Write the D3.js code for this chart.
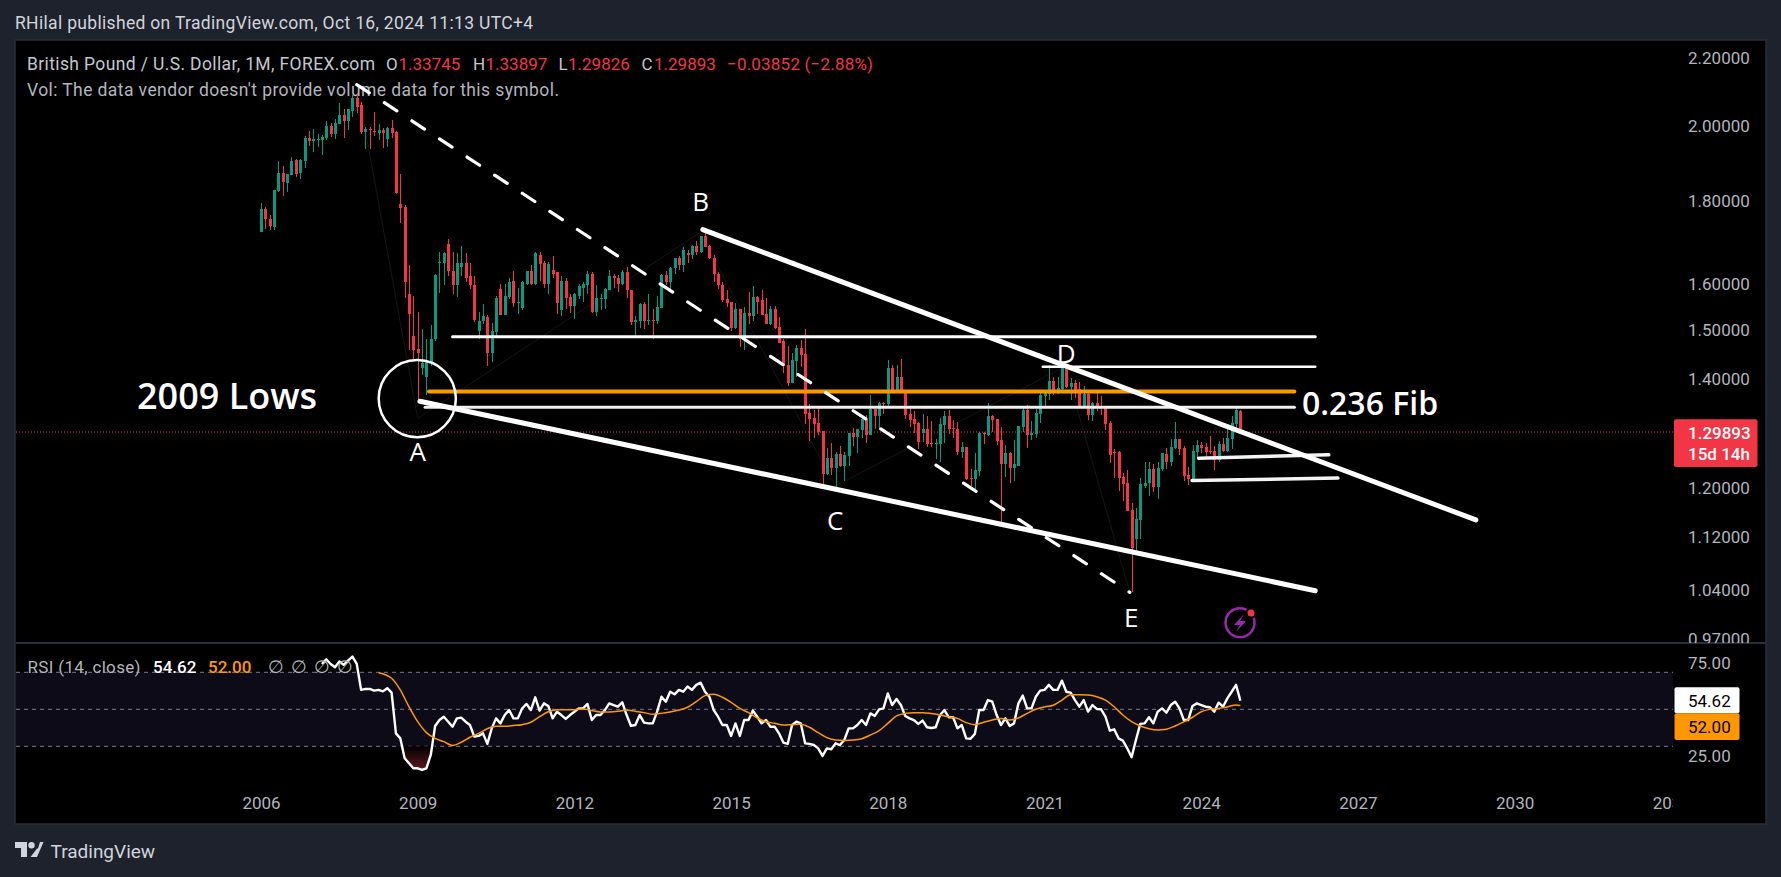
<!DOCTYPE html>
<html>
<head>
<meta charset="utf-8">
<script src="https://cdn.jsdelivr.net/npm/d3@7"></script>
<style>
  body { margin: 0; background: #1e222d; overflow: hidden; }
  text { font-family: Roboto, sans-serif; }
</style>
</head>
<body>
<div id="chart"></div>
<script>
// monthly bars, month 0 = Jan 2006
const opens = [
  1.722,1.780,1.754,1.735,1.824,1.872,1.846,1.867,1.905,1.872,
  1.904,1.967,1.959,1.961,1.961,1.967,2.000,1.978,2.006,2.031,
  2.014,2.043,2.080,2.060,1.984,1.992,1.986,1.981,1.989,1.964,
  1.994,1.983,1.792,1.784,1.579,1.488,1.461,1.421,1.403,1.433,
  1.480,1.648,1.648,1.694,1.631,1.599,1.639,1.648,1.618,1.597,
  1.497,1.518,1.527,1.451,1.495,1.590,1.533,1.572,1.608,1.557,
  1.548,1.601,1.629,1.601,1.666,1.648,1.601,1.633,1.627,1.542,
  1.608,1.572,1.552,1.574,1.592,1.599,1.624,1.539,1.566,1.566,
  1.588,1.618,1.615,1.601,1.627,1.588,1.516,1.518,1.555,1.520,
  1.522,1.520,1.548,1.620,1.604,1.636,1.659,1.643,1.673,1.666,
  1.689,1.675,1.713,1.689,1.661,1.624,1.599,1.566,1.561,1.505,
  1.546,1.480,1.537,1.529,1.572,1.564,1.535,1.512,1.544,1.507,
  1.476,1.427,1.392,1.435,1.463,1.449,1.334,1.324,1.315,1.301,
  1.224,1.252,1.234,1.259,1.238,1.255,1.297,1.290,1.302,1.323,
  1.293,1.341,1.328,1.354,1.351,1.421,1.376,1.403,1.378,1.332,
  1.323,1.315,1.297,1.304,1.279,1.277,1.277,1.311,1.328,1.306,
  1.304,1.262,1.271,1.217,1.215,1.229,1.297,1.293,1.328,1.323,
  1.284,1.241,1.261,1.234,1.239,1.308,1.339,1.293,1.295,1.332,
  1.366,1.370,1.395,1.378,1.380,1.423,1.384,1.392,1.380,1.347,
  1.370,1.330,1.354,1.347,1.345,1.315,1.262,1.262,1.219,1.209,
  1.163,1.117,1.147,1.204,1.209,1.233,1.202,1.233,1.259,1.245,
  1.270,1.286,1.270,1.222,1.215,1.262,1.275,1.271,1.264,1.264,
  1.248,1.277,1.264,1.286,1.313,1.33745];
const highs = [
  1.794,1.783,1.764,1.828,1.904,1.891,1.870,1.914,1.909,1.909,
  1.971,1.985,1.991,1.977,1.975,2.013,2.008,2.020,2.066,2.048,
  2.049,2.089,2.094,2.068,1.997,1.997,2.039,2.006,1.994,1.996,
  2.017,1.985,1.870,1.789,1.643,1.574,1.539,1.501,1.480,1.510,
  1.622,1.675,1.675,1.706,1.675,1.673,1.689,1.673,1.648,1.618,
  1.539,1.555,1.533,1.514,1.574,1.601,1.601,1.613,1.631,1.592,
  1.608,1.629,1.643,1.675,1.675,1.652,1.650,1.664,1.627,1.618,
  1.615,1.579,1.581,1.601,1.606,1.629,1.627,1.599,1.579,1.592,
  1.633,1.624,1.620,1.633,1.639,1.588,1.529,1.559,1.561,1.577,
  1.546,1.574,1.622,1.629,1.639,1.659,1.664,1.685,1.680,1.692,
  1.701,1.713,1.721,1.692,1.666,1.627,1.604,1.588,1.561,1.557,
  1.546,1.550,1.583,1.595,1.574,1.586,1.568,1.552,1.552,1.527,
  1.482,1.467,1.453,1.469,1.478,1.503,1.351,1.339,1.347,1.301,
  1.270,1.279,1.262,1.274,1.262,1.297,1.306,1.304,1.325,1.330,
  1.368,1.341,1.356,1.356,1.437,1.427,1.427,1.439,1.378,1.347,
  1.338,1.317,1.332,1.328,1.319,1.286,1.324,1.338,1.339,1.321,
  1.317,1.281,1.271,1.233,1.261,1.299,1.299,1.353,1.330,1.323,
  1.308,1.275,1.262,1.284,1.310,1.343,1.349,1.319,1.341,1.376,
  1.378,1.427,1.403,1.403,1.425,1.427,1.401,1.397,1.394,1.386,
  1.372,1.356,1.378,1.366,1.345,1.319,1.268,1.264,1.226,1.231,
  1.175,1.167,1.217,1.246,1.246,1.241,1.245,1.261,1.270,1.286,
  1.317,1.286,1.274,1.236,1.275,1.284,1.281,1.279,1.291,1.274,
  1.282,1.288,1.306,1.328,1.345,1.33897];
const lows = [
  1.721,1.730,1.726,1.726,1.823,1.811,1.821,1.865,1.862,1.855,
  1.885,1.944,1.928,1.942,1.920,1.962,1.970,1.964,2.006,1.967,
  1.989,2.026,2.037,1.978,1.936,1.935,1.973,1.961,1.939,1.942,
  1.967,1.818,1.745,1.570,1.459,1.439,1.353,1.407,1.368,1.425,
  1.477,1.581,1.599,1.618,1.579,1.572,1.618,1.604,1.590,1.516,
  1.480,1.512,1.425,1.433,1.488,1.533,1.531,1.566,1.550,1.535,
  1.542,1.597,1.597,1.599,1.608,1.592,1.579,1.613,1.535,1.529,
  1.544,1.537,1.524,1.566,1.561,1.579,1.537,1.529,1.542,1.544,
  1.586,1.592,1.583,1.599,1.570,1.510,1.484,1.505,1.503,1.510,
  1.482,1.512,1.548,1.597,1.590,1.624,1.633,1.627,1.648,1.657,
  1.668,1.673,1.687,1.657,1.606,1.590,1.561,1.550,1.497,1.501,
  1.465,1.459,1.512,1.518,1.535,1.533,1.512,1.510,1.501,1.473,
  1.411,1.386,1.392,1.403,1.423,1.313,1.282,1.288,1.293,1.207,
  1.222,1.222,1.200,1.236,1.212,1.238,1.274,1.261,1.288,1.279,
  1.293,1.304,1.306,1.332,1.347,1.376,1.374,1.374,1.323,1.308,
  1.297,1.268,1.281,1.271,1.271,1.250,1.245,1.279,1.295,1.288,
  1.257,1.252,1.214,1.204,1.198,1.220,1.277,1.291,1.299,1.275,
  1.142,1.219,1.209,1.212,1.238,1.299,1.270,1.284,1.288,1.315,
  1.347,1.358,1.368,1.370,1.378,1.382,1.358,1.362,1.343,1.345,
  1.321,1.319,1.338,1.330,1.302,1.243,1.217,1.195,1.179,1.162,
  1.036,1.094,1.117,1.200,1.187,1.193,1.182,1.229,1.233,1.238,
  1.268,1.257,1.212,1.205,1.212,1.252,1.261,1.254,1.259,1.231,
  1.246,1.262,1.262,1.268,1.302,1.29826];
const closes = [
  1.779,1.753,1.737,1.828,1.872,1.849,1.870,1.904,1.870,1.907,
  1.967,1.958,1.963,1.963,1.969,2.000,1.978,2.008,2.031,2.014,
  2.048,2.081,2.055,1.984,1.991,1.991,1.984,1.989,1.981,1.994,
  1.981,1.820,1.782,1.606,1.535,1.459,1.453,1.431,1.437,1.482,
  1.620,1.650,1.673,1.629,1.599,1.648,1.648,1.615,1.597,1.522,
  1.520,1.529,1.451,1.497,1.570,1.533,1.574,1.606,1.557,1.561,
  1.604,1.629,1.601,1.673,1.646,1.601,1.646,1.624,1.557,1.608,
  1.570,1.552,1.577,1.595,1.601,1.624,1.539,1.568,1.568,1.590,
  1.618,1.615,1.601,1.627,1.586,1.516,1.522,1.555,1.520,1.522,
  1.520,1.550,1.620,1.604,1.636,1.659,1.643,1.678,1.666,1.689,
  1.675,1.713,1.687,1.659,1.622,1.599,1.564,1.559,1.505,1.546,
  1.482,1.537,1.529,1.572,1.561,1.533,1.512,1.544,1.505,1.473,
  1.425,1.392,1.437,1.463,1.447,1.332,1.323,1.313,1.299,1.224,
  1.252,1.234,1.259,1.238,1.257,1.297,1.290,1.304,1.323,1.293,
  1.341,1.328,1.354,1.353,1.421,1.376,1.403,1.376,1.330,1.321,
  1.313,1.281,1.304,1.277,1.277,1.279,1.313,1.328,1.304,1.304,
  1.262,1.271,1.215,1.215,1.231,1.297,1.295,1.328,1.321,1.282,
  1.241,1.261,1.234,1.241,1.310,1.339,1.293,1.297,1.334,1.368,
  1.374,1.395,1.378,1.382,1.423,1.384,1.392,1.374,1.347,1.370,
  1.330,1.354,1.345,1.343,1.313,1.257,1.261,1.217,1.207,1.162,
  1.103,1.149,1.207,1.209,1.233,1.202,1.234,1.261,1.245,1.271,
  1.286,1.268,1.220,1.215,1.264,1.275,1.270,1.262,1.263,1.248,
  1.277,1.264,1.288,1.315,1.339,1.29893];

// RSI (14) starts at month 14
const rsiFirstMonth = 14;
const rsi = [
  74.5,77.0,74.5,72.7,75.8,74.0,76.3,78.5,74.5,60.5,61.0,61.0,60.1,60.5,59.7,61.4,59.0,37.0,34.3,23.5,
  20.8,18.1,18.1,17.2,18.1,25.3,41.0,44.2,46.0,43.3,40.6,45.1,45.5,43.3,41.5,35.2,35.6,37.0,31.3,39.7,
  45.1,42.4,46.9,49.6,45.1,45.1,50.5,52.9,49.6,56.5,49.3,53.2,51.8,45.1,48.7,46.9,44.8,46.9,48.7,50.5,
  50.5,52.9,44.2,46.9,46.9,49.6,53.2,52.3,51.4,53.8,46.9,41.0,41.5,46.9,42.8,42.4,42.4,48.7,56.8,54.1,
  59.5,58.1,60.5,59.5,62.3,60.5,63.2,64.4,59.5,56.8,49.6,46.0,41.5,41.5,35.6,42.4,35.6,44.2,44.2,49.3,
  46.0,42.4,44.2,40.6,40.6,37.0,32.0,31.3,41.5,43.3,42.4,31.6,31.3,30.7,28.9,24.8,28.9,28.4,31.6,30.7,
  33.4,39.7,39.7,41.5,44.2,41.5,47.8,46.4,50.0,50.5,58.6,52.3,55.6,52.3,46.4,45.1,44.2,42.1,43.9,40.3,
  39.9,40.3,46.9,49.6,45.7,45.7,39.7,41.5,34.3,34.1,36.7,49.6,49.6,55.0,54.1,46.9,41.5,45.1,41.0,42.4,
  53.2,57.4,50.5,50.5,56.8,60.1,60.5,63.2,60.5,60.5,65.5,59.5,59.0,55.0,51.4,55.0,48.7,52.3,50.2,50.0,
  46.0,38.5,39.2,34.3,33.1,28.9,24.1,33.4,42.1,42.4,45.7,42.4,48.7,50.5,48.2,52.3,54.1,50.5,44.2,44.2,
  51.8,53.2,52.3,51.4,51.1,48.7,53.6,51.4,55.9,59.5,63.2,54.62];

// RSI moving average, read every second month
const rsiMaMonths = [27,30,32,34,36,38,40,42,44,46,48,50,52,54,56,58,60,62,64,66,68,70,72,74,76,78,80,82,84,86,88,90,92,94,96,98,100,
  102,104,106,108,110,112,114,116,118,120,122,124,126,128,130,132,134,136,138,140,142,144,146,148,150,152,154,156,158,160,162,164,166,168,170,172,
  174,176,178,180,182,184,186,188,190,192,194,196,198,200,202,204,206,208,210,212,214,216,218,220,222,224,225];
const rsiMa = [69.8,66.8,60.5,51.4,43.3,37.4,34.3,32.5,30.5,32.2,34.9,37.0,39.5,40.8,40.8,41.2,41.7,43.0,46.0,48.7,49.8,49.8,49.8,50.2,49.3,48.6,48.6,48.9,49.6,48.9,48.2,47.3,47.8,48.6,49.6,51.1,54.1,
  57.4,58.1,56.5,53.8,50.5,48.2,45.3,43.3,42.4,41.5,41.7,41.9,40.3,37.4,34.7,33.4,33.2,33.4,34.1,36.1,38.5,42.4,46.4,47.8,48.2,48.2,47.7,46.9,45.9,45.1,42.8,41.7,43.0,44.2,45.0,44.2,
  45.3,47.8,50.0,51.3,52.2,55.0,57.9,57.9,57.7,56.8,55.0,51.4,46.9,43.3,41.0,39.5,38.8,39.2,41.0,43.2,45.7,48.7,50.0,50.5,51.3,52.3,52.0];

const priceTicks = [2.2, 2.0, 1.8, 1.6, 1.5, 1.4, 1.2, 1.12, 1.04, 0.97];
const rsiTicks = [75, 25];
const rsiLevels = [70, 50, 30];
const yearTicks = [2006, 2009, 2012, 2015, 2018, 2021, 2024, 2027, 2030, 2033];

// drawings on the chart, as [month, price]
const upperChannel = [[101.5, 1.728], [279.1, 1.1475]];
const lowerChannel = [[36.5, 1.3565], [242.2, 1.0385]];
const dashedTrend = [[22, 2.12], [199.6, 1.036]];
const level150 = [[44, 1.4856], [242.2, 1.4856]];
const levelD = [[179.6, 1.4242], [242.2, 1.4242]];
const levelFib = [[38.6, 1.3755], [237.4, 1.3755]];
const levelA = [[37.7, 1.345], [237.4, 1.345]];
const shortUpper = [[215.4, 1.2519], [245.3, 1.2578]];
const shortLower = [[213.9, 1.2133], [247.4, 1.2172]];
const lowCircle = [35.9, 1.3616];
const waveLine = [[22.7, 2.075], [36, 1.324], [100.8, 1.7207], [131.9, 1.2036], [184.7, 1.4246], [199.6, 1.036]];
const waveLabels = [['A', 36, 1.265], ['B', 101, 1.80], ['C', 131.9, 1.148], ['D', 185, 1.453], ['E', 199.9, 1.0005]];

const width = 1781, height = 877;
const pane = {left: 16, right: 1673, top: 41, bottom: 823, split: 643};

const svg = d3.select('#chart')
              .append('svg')
              .attr('width', width)
              .attr('height', height)
              .style('display', 'block');

const defs = svg.append('defs');
defs.append('clipPath').attr('id', 'priceClip').append('rect')
    .attr('x', 0).attr('y', pane.top).attr('width', width).attr('height', pane.split - pane.top);
defs.append('clipPath').attr('id', 'timeClip').append('rect')
    .attr('x', pane.left).attr('y', pane.top).attr('width', pane.right - pane.left).attr('height', pane.bottom - pane.top);

// scales
const xScale = d3.scaleLinear().domain([0, 225]).range([261, 1240.4]);
const yScale = d3.scaleLog().domain([1.04, 2.2]).range([589.7, 58.3]);
const rsiScale = d3.scaleLinear().domain([30, 70]).range([746.3, 672.3]);
const xOf = m => Math.round(xScale(m));

// frame
svg.append('rect')
   .attr('x', pane.left - 1).attr('y', pane.top - 1)
   .attr('width', 1766 - pane.left + 1).attr('height', pane.bottom - pane.top + 2)
   .attr('fill', '#000').attr('stroke', '#2a2e39').attr('stroke-width', 1.5);
svg.append('line')
   .attr('x1', pane.left).attr('x2', 1766).attr('y1', pane.split).attr('y2', pane.split)
   .attr('stroke', '#2a2e39').attr('stroke-width', 2);

const legendGrey = '#b2b5be', red = '#f23645', orange = '#ff9800';
const addText = (x, y, txt, fill, size, extra) => {
  const t = svg.append('text').attr('x', x).attr('y', y).attr('font-size', size).attr('fill', fill).text(txt);
  if (extra) extra(t);
  return t;
};
const fitTo = w => t => t.attr('textLength', w).attr('lengthAdjust', 'spacing');

// header text
addText(15, 29, 'RHilal published on TradingView.com, Oct 16, 2024 11:13 UTC+4', '#d1d4dc', 17.5, fitTo(518));

// legend
addText(27, 70, 'British Pound / U.S. Dollar, 1M, FOREX.com', '#c4c7cf', 17.5, fitTo(348));
[['O', 386, '1.33745'], ['H', 473, '1.33897'], ['L', 558.5, '1.29826'], ['C', 641.5, '1.29893']].forEach(d => {
  addText(d[1], 70, d[0], '#c4c7cf', 17);
  addText(d[1] + (d[0] === 'L' ? 9.5 : 12.5), 70, d[2], red, 17);
});
addText(727, 70, '\u22120.03852 (\u22122.88%)', red, 17, fitTo(146));
addText(27, 96, "Vol: The data vendor doesn't provide volume data for this symbol.", legendGrey, 17.5, fitTo(532));

// zigzag wave underneath
const priceLine = d3.line().x(d => xScale(d[0])).y(d => yScale(d[1]));
svg.append('path').attr('d', priceLine(waveLine)).attr('fill', 'none')
   .attr('stroke', '#151515').attr('stroke-width', 1);

// candles
const months = d3.range(opens.length);
const candles = svg.append('g').attr('shape-rendering', 'crispEdges');
candles.selectAll('.wick').data(months).enter().append('rect')
   .attr('class', 'wick')
   .attr('x', d => xOf(d))
   .attr('y', d => yScale(highs[d]))
   .attr('width', 1)
   .attr('height', d => yScale(lows[d]) - yScale(highs[d]))
   .attr('fill', d => closes[d] >= opens[d] ? '#089981' : red);
candles.selectAll('.body').data(months).enter().append('rect')
   .attr('class', 'body')
   .attr('x', d => xOf(d) - 1)
   .attr('y', d => yScale(Math.max(opens[d], closes[d])))
   .attr('width', 3)
   .attr('height', d => Math.max(1, Math.abs(yScale(opens[d]) - yScale(closes[d]))))
   .attr('fill', d => closes[d] >= opens[d] ? '#089981' : red);

// last price dotted line
svg.append('line')
   .attr('x1', pane.left).attr('x2', pane.right)
   .attr('y1', yScale(closes[225])).attr('y2', yScale(closes[225]))
   .attr('stroke', red).attr('stroke-width', 1).attr('stroke-dasharray', '1 2');

// drawn trendlines and levels
const drawLine = (pts, stroke, w, dash) => svg.append('path')
   .attr('d', priceLine(pts)).attr('fill', 'none').attr('stroke', stroke)
   .attr('stroke-width', w).attr('stroke-linecap', 'round')
   .attr('stroke-dasharray', dash || null);
drawLine(level150, '#fff', 3);
drawLine(levelD, '#fff', 2.5);
drawLine(levelA, '#f0f0f0', 3);
drawLine(levelFib, orange, 4);
drawLine(shortUpper, '#f4f4f4', 3.5);
drawLine(shortLower, '#f4f4f4', 3.5);
drawLine(upperChannel, '#fff', 5);
drawLine(lowerChannel, '#fff', 5);
drawLine(dashedTrend, '#fff', 3.2, '15 18');

// circle around the 2009 low
svg.append('circle')
   .attr('cx', xScale(lowCircle[0])).attr('cy', yScale(lowCircle[1])).attr('r', 38.6)
   .attr('fill', 'none').attr('stroke', '#fff').attr('stroke-width', 2.5);

// wave letters and notes
waveLabels.forEach(d => {
  svg.append('text').attr('x', xScale(d[1])).attr('y', yScale(d[2])).attr('text-anchor', 'middle')
     .attr('dominant-baseline', 'central').attr('font-size', 26).attr('fill', '#fff')
     .style('font-family', 'Open Sans').text(d[0]);
});
addText(137, 409, '2009 Lows', '#fff', 36, t => t.attr('font-weight', 600).style('font-family', 'Open Sans'));
addText(1302, 415, '0.236 Fib', '#fff', 32, t => t.attr('font-weight', 600).style('font-family', 'Open Sans'));

// flash icon
const icon = svg.append('g');
icon.append('circle').attr('cx', 1240).attr('cy', 622.7).attr('r', 14.5)
    .attr('fill', 'none').attr('stroke', '#9c27b0').attr('stroke-width', 2.5);
icon.append('path').attr('d', 'M1244 614 L1234 625 H1240 L1236 632 L1246 621 H1240 Z').attr('fill', '#9c27b0');
icon.append('circle').attr('cx', 1251).attr('cy', 613).attr('r', 4.5)
    .attr('fill', red).attr('stroke', '#000').attr('stroke-width', 2);

// RSI pane
svg.append('rect')
   .attr('x', pane.left).attr('y', rsiScale(70))
   .attr('width', pane.right - pane.left).attr('height', rsiScale(30) - rsiScale(70))
   .attr('fill', '#0e0b18');
svg.selectAll('.rsiLevel').data(rsiLevels).enter().append('line')
   .attr('class', 'rsiLevel')
   .attr('x1', pane.left).attr('x2', pane.right)
   .attr('y1', d => rsiScale(d)).attr('y2', d => rsiScale(d))
   .attr('stroke', '#787b86').attr('stroke-dasharray', '4 4');

const grad = defs.append('linearGradient').attr('id', 'oversold')
   .attr('gradientUnits', 'userSpaceOnUse')
   .attr('x1', 0).attr('x2', 0).attr('y1', rsiScale(30)).attr('y2', rsiScale(17));
grad.append('stop').attr('offset', 0).attr('stop-color', '#000');
grad.append('stop').attr('offset', 1).attr('stop-color', '#611a1f');

const rsiIndex = d3.range(rsi.length);
svg.append('path')
   .attr('d', d3.area()
      .x(i => xScale(rsiFirstMonth + i))
      .y0(rsiScale(30))
      .y1(i => rsiScale(Math.min(rsi[i], 30)))(rsiIndex))
   .attr('fill', 'url(#oversold)');
svg.append('path')
   .attr('d', d3.line().x(i => xScale(rsiFirstMonth + i)).y(i => rsiScale(rsi[i]))(rsiIndex))
   .attr('fill', 'none').attr('stroke', '#fff').attr('stroke-width', 2.4).attr('stroke-linejoin', 'round');
svg.append('path')
   .attr('d', d3.line().curve(d3.curveMonotoneX).x((d, i) => xScale(d)).y((d, i) => rsiScale(rsiMa[i]))(rsiMaMonths))
   .attr('fill', 'none').attr('stroke', orange).attr('stroke-width', 1.5);

addText(27.5, 673, 'RSI (14, close)', legendGrey, 17, fitTo(113));
addText(153, 673, '54.62', '#fff', 17, t => t.attr('font-weight', 500));
addText(208, 673, '52.00', orange, 17, t => t.attr('font-weight', 500));
[268, 291, 314, 337].forEach(x => addText(x, 673, '\u2205', legendGrey, 18));

// axes
const axisFont = g => {
  g.select('.domain').remove();
  g.selectAll('text').attr('font-size', 17).attr('fill', legendGrey).style('font-family', 'Roboto');
};
const priceAxis = d3.axisRight(yScale).tickValues(priceTicks).tickFormat(d3.format('.5f')).tickSize(0).tickPadding(0);
svg.append('g').attr('class', 'axis y-axis')
   .attr('transform', 'translate(1688, 0)').attr('clip-path', 'url(#priceClip)')
   .call(priceAxis).call(axisFont);
const rsiAxis = d3.axisRight(rsiScale).tickValues(rsiTicks).tickFormat(d3.format('.2f')).tickSize(0).tickPadding(0);
svg.append('g').attr('class', 'axis rsi-axis')
   .attr('transform', 'translate(1688, 0)')
   .call(rsiAxis).call(axisFont);

const yearScale = d3.scaleLinear().domain([2006, 2033]).range([xScale(0), xScale(324)]);
const timeAxis = d3.axisBottom(yearScale).tickValues(yearTicks).tickFormat(d3.format('d')).tickSize(0).tickPadding(0);
svg.append('g').attr('clip-path', 'url(#timeClip)').append('g').attr('class', 'axis x-axis')
   .attr('transform', 'translate(0, 797)')
   .call(timeAxis).call(axisFont);

// price tags
const tag = (x, y, w, h, fill) => svg.append('rect').attr('x', x).attr('y', y).attr('width', w).attr('height', h).attr('rx', 2).attr('fill', fill);
tag(1674, 419.3, 83.5, 47.7, red);
addText(1688, 438.5, '1.29893', '#fff', 17, t => t.attr('font-weight', 500));
addText(1688, 459.5, '15d 14h', '#fff', 17, t => t.attr('font-weight', 500));
tag(1674.5, 687.3, 65, 26, '#fff');
tag(1674.5, 713.3, 65, 26.7, orange);
addText(1688, 706.7, '54.62', '#000', 17);
addText(1688, 733, '52.00', '#000', 17);

// logo
const logo = svg.append('g').attr('fill', '#d1d4dc');
logo.append('path').attr('d', 'M15 842 H27 V857 H21 V848 H15 Z');
logo.append('circle').attr('cx', 31.5).attr('cy', 845.3).attr('r', 3.2);
logo.append('path').attr('d', 'M43.5 842 L37 857 H30.5 L37 848.5 H38 L40 842 Z');
addText(50.5, 858, 'TradingView', '#d1d4dc', 19);
</script>
</body>
</html>
